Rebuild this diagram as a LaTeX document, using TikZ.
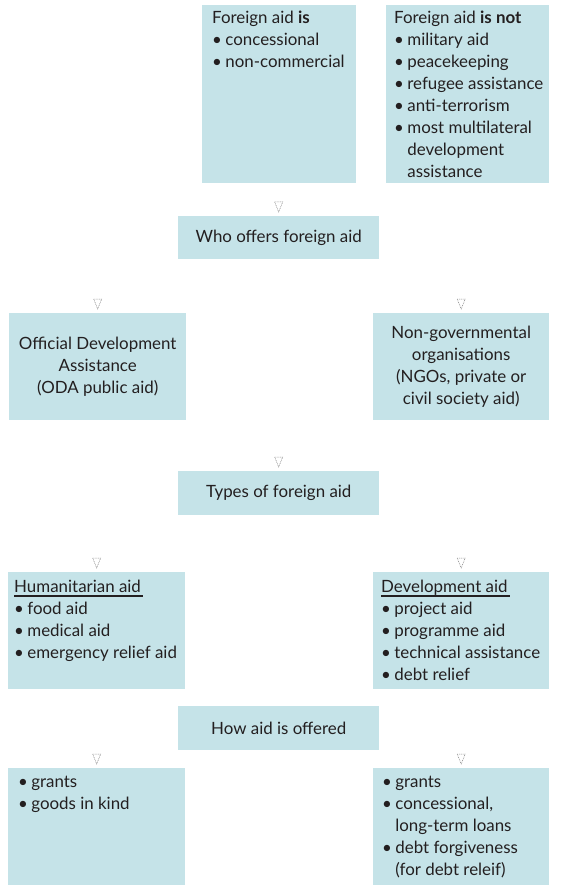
\documentclass[tikz,border=0pt]{standalone}
\usepackage{fontspec}
\setmainfont{Lato}
\usepackage{tikz}
\usetikzlibrary{calc}

\definecolor{boxblue}{HTML}{C5E3E8}
\definecolor{inkdark}{HTML}{231F20}
\definecolor{markgrey}{HTML}{8A8A8A}

\tikzset{
  aidbox/.style={fill=boxblue, draw=none, anchor=north west, inner sep=0pt},
  boxtext/.style={text=inkdark, font=\fontsize{16.9}{22}\selectfont, inner sep=0pt},
  listtext/.style={boxtext, anchor=north west, align=left},
  tipmark/.style={draw=markgrey, dashed, dash pattern=on 1pt off 0.8pt, line width=0.5pt}
}
% little open arrowhead sitting above a box
\newcommand{\downmark}[1]{\draw[tipmark] ([shift={(-4,-14)}]#1.north) -- ++(8,0) -- ++(-4,10) -- cycle;}
\newcommand{\headul}[1]{\setbox0=\hbox{#1\kern2pt}\rlap{\vrule height -2.2pt depth 4.4pt width \wd0}\box0}
\newcommand{\bul}{\textbullet\hspace{0.2em}}
\newcommand{\hang}{\phantom{\textbullet\hspace{0.2em}}}

\begin{document}
\begin{tikzpicture}[x=1pt, y=-1pt]
  \useasboundingbox (0,0) rectangle (560,890);

  % what foreign aid is / is not
  \node[aidbox, minimum width=154, minimum height=178] (isbox) at (202,5) {};
  \node[listtext] (istext) at ([shift={(10,6)}]isbox.north west)
    {Foreign aid \textbf{is}\\ \bul concessional\\ \bul non-commercial};
  \node[aidbox, minimum width=163, minimum height=178] (notbox) at (386,5) {};
  \node[listtext] (nottext) at ([shift={(8,6)}]notbox.north west)
    {Foreign aid \textbf{is not}\\ \bul military aid\\ \bul peacekeeping\\ \bul refugee assistance\\
     \bul anti-terrorism\\ \bul most multilateral\\ \hang development\\ \hang assistance};

  % who offers it
  \node[aidbox, minimum width=201, minimum height=43] (who) at (178,216) {};
  \node[boxtext] (whotext) at (who.center) {Who offers foreign aid};
  \node[aidbox, minimum width=177, minimum height=107] (oda) at (9,313) {};
  \node[boxtext, align=center] (odatext) at (oda.center)
    {Official Development\\ Assistance\\ (ODA public aid)};
  \node[aidbox, minimum width=176, minimum height=107] (ngo) at (373,313) {};
  \node[boxtext, align=center] (ngotext) at (ngo.center)
    {Non-governmental\\ organisations\\ (NGOs, private or\\ civil society aid)};

  % types
  \node[aidbox, minimum width=201, minimum height=44] (types) at (178,471) {};
  \node[boxtext] (typestext) at (types.center) {Types of foreign aid};
  \node[aidbox, minimum width=177, minimum height=117] (hum) at (8,572) {};
  \node[listtext] (humtext) at ([shift={(6,8)}]hum.north west)
    {\headul{Humanitarian aid}\\ \bul food aid\\ \bul medical aid\\ \bul emergency relief aid};
  \node[aidbox, minimum width=176, minimum height=117] (dev) at (373,572) {};
  \node[listtext] (devtext) at ([shift={(8,8)}]dev.north west)
    {\headul{Development aid}\\ \bul project aid\\ \bul programme aid\\ \bul technical assistance\\ \bul debt relief};

  % how it is offered
  \node[aidbox, minimum width=201, minimum height=44] (how) at (178,706) {};
  \node[boxtext] (howtext) at (how.center) {How aid is offered};
  \node[aidbox, minimum width=177, minimum height=117] (humhow) at (8,768) {};
  \node[listtext] (humhowtext) at ([shift={(10,8)}]humhow.north west)
    {\bul grants\\ \bul goods in kind};
  \node[aidbox, minimum width=176, minimum height=117] (devhow) at (373,768) {};
  \node[listtext] (devhowtext) at ([shift={(9,8)}]devhow.north west)
    {\bul grants\\ \bul concessional,\\ \hang long-term loans\\ \bul debt forgiveness\\ \hang (for debt releif)};

  \foreach \b in {who,oda,ngo,types,hum,dev,humhow,devhow}
    {\downmark{\b}}
\end{tikzpicture}
\end{document}
